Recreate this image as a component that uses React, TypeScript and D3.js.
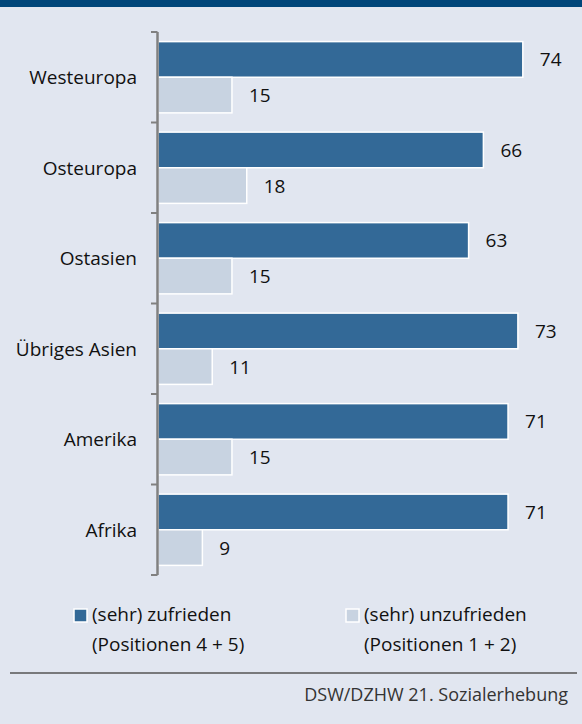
import React from "react";
import * as d3 from "d3";

const categories = ["Westeuropa", "Osteuropa", "Ostasien", "Übriges Asien", "Amerika", "Afrika"];
const satisfied = [74, 66, 63, 73, 71, 71];
const dissatisfied = [15, 18, 15, 11, 15, 9];
const seriesKeys = ["satisfied", "dissatisfied"];
const legendLabels = [
  ["(sehr) zufrieden", "(Positionen 4 + 5)"],
  ["(sehr) unzufrieden", "(Positionen 1 + 2)"],
];
const sourceText = "DSW/DZHW 21. Sozialerhebung";

const W = 582;
const H = 724;
const FONT = "'Open Sans', 'Noto Sans', sans-serif";
const BG = "#e1e6f0";
const TOP = "#00467a";
const DARK = "#336997";
const LIGHT = "#c8d3e1";
const colors = [DARK, LIGHT];
const FS = 19;

export default function App() {
  const y = d3.scaleBand<string>().domain(categories).range([32, 575]).paddingInner(0).paddingOuter(0);
  const inner = d3.scaleBand<string>().domain(seriesKeys).range([0, y.bandwidth()]).paddingInner(0).paddingOuter(0.27);
  const x = d3.scaleLinear().domain([0, 100]).range([158, 158 + 493]);
  const series = [satisfied, dissatisfied];
  const tickYs = categories.map((c) => y(c) as number).concat([(y(categories[categories.length - 1]) as number) + y.bandwidth()]);

  return (
    <svg width={W} height={H} style={{ position: "absolute", left: 0, top: 0, display: "block" }} fontFamily={FONT}>
      <rect x={0} y={0} width={W} height={H} fill={BG} />
      <rect x={0} y={0} width={W} height={7} fill={TOP} />
      {categories.map((c, i) => (
        <g key={c}>
          {series.map((vals, s) => {
            const by = (y(c) as number) + (inner(seriesKeys[s]) as number);
            const bh = inner.bandwidth();
            return (
              <g key={s}>
                <rect x={x(0)} y={by} width={x(vals[i]) - x(0)} height={bh} fill={colors[s]} stroke="#ffffff" strokeWidth={1.5} />
                <text x={x(vals[i]) + 17} y={by + bh / 2} dominantBaseline="central" fontSize={FS} fill="#111">
                  {vals[i]}
                </text>
              </g>
            );
          })}
          <text x={137} y={(y(c) as number) + y.bandwidth() / 2} textAnchor="end" dominantBaseline="central" fontSize={FS} fill="#111">
            {c}
          </text>
        </g>
      ))}
      <line x1={157.5} x2={157.5} y1={32} y2={575} stroke="#808080" strokeWidth={2.5} />
      {tickYs.map((t, i) => (
        <line key={i} x1={151} x2={157.5} y1={t} y2={t} stroke="#808080" strokeWidth={2} />
      ))}
      {legendLabels.map((lines, s) => {
        const lx = s === 0 ? 74 : 346;
        return (
          <g key={s}>
            <rect x={lx} y={609} width={13} height={13} fill={colors[s]} stroke="#ffffff" strokeWidth={1.5} />
            <text x={lx + 18} y={614} dominantBaseline="central" fontSize={FS} fill="#111">{lines[0]}</text>
            <text x={lx + 18} y={644} dominantBaseline="central" fontSize={FS} fill="#111">{lines[1]}</text>
          </g>
        );
      })}
      <line x1={10} x2={577} y1={673} y2={673} stroke="#555" strokeWidth={1.5} />
      <text x={568} y={694} textAnchor="end" dominantBaseline="central" fontSize={18} fill="#333">{sourceText}</text>
    </svg>
  );
}
